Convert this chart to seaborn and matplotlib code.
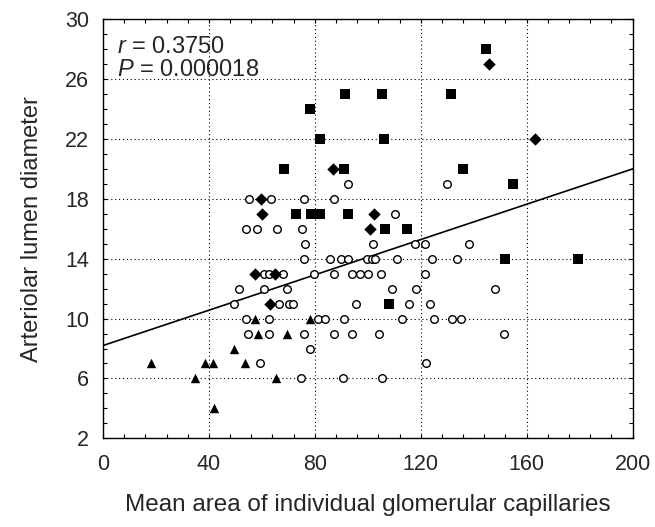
import numpy as np
import matplotlib
matplotlib.use("Agg")
import matplotlib.pyplot as plt
from matplotlib.ticker import MultipleLocator
import seaborn as sns

# values
sq_x = [91.5, 78, 82, 68.5, 91, 144.5, 105.5, 131.3, 106, 136, 155, 72.9, 78.6, 82,
        92.5, 106.6, 114.9, 151.8, 179.6, 108.2]
sq_y = [25, 24, 22, 20, 20, 28, 25, 25, 22, 20, 19, 17, 17, 17, 17, 16, 16, 14, 14, 11]

dia_x = [87, 145.7, 163, 59.7, 60, 102.3, 101, 57.5, 65.1, 63.2]
dia_y = [20, 27, 22, 18, 17, 17, 16, 13, 13, 11]

tri_x = [57.5, 78, 58.4, 69.5, 49.3, 18.3, 38.6, 41.6, 53.6, 34.7, 65.4, 42]
tri_y = [10, 10, 9, 9, 8, 7, 7, 7, 7, 6, 6, 4]

circ_x = [92.7, 130,
          55.3, 63.5, 75.8, 87.2,
          110.4,
          54.0, 58.0, 65.7, 75.0,
          76.3, 101.9, 117.7, 121.5, 138.2,
          75.8, 85.9, 89.8, 92.5, 99.8, 101.5, 102.8, 111.1, 124.1, 133.6,
          60.7, 62.6, 68.0, 79.8, 87.4, 94.1, 97.1, 100.0, 105.1, 121.5,
          51.5, 60.9, 69.5, 109.1, 118.3, 148.1,
          49.6, 66.3, 70.4, 71.8, 95.6, 115.5, 123.7,
          54.0, 62.6, 81.1, 83.9, 91.0, 112.8, 124.9, 131.7, 135.1,
          54.6, 62.6, 75.8, 87.2, 94.2, 104.4, 151.5,
          78.0,
          59.3, 122.1,
          74.6, 90.6, 105.5]
circ_y = [19, 19,
          18, 18, 18, 18,
          17,
          16, 16, 16, 16,
          15, 15, 15, 15, 15,
          14, 14, 14, 14, 14, 14, 14, 14, 14, 14,
          13, 13, 13, 13, 13, 13, 13, 13, 13, 13,
          12, 12, 12, 12, 12, 12,
          11, 11, 11, 11, 11, 11, 11,
          10, 10, 10, 10, 10, 10, 10, 10, 10,
          9, 9, 9, 9, 9, 9, 9,
          8,
          7, 7,
          6, 6, 6]

fit_x = [0, 200]
fit_y = [8.2, 20.0]

x_ticks = [0, 40, 80, 120, 160, 200]
y_ticks = [2, 6, 10, 14, 18, 22, 26, 30]

sns.set_theme(style="white")
plt.rcParams["font.family"] = ["Liberation Sans", "DejaVu Sans"]
plt.rcParams["mathtext.fontset"] = "custom"
plt.rcParams["mathtext.rm"] = "Liberation Sans"
plt.rcParams["mathtext.it"] = "Liberation Sans:italic"

fig = plt.figure(figsize=(6.55, 5.27), dpi=100)
ax = fig.add_axes([103 / 655, 1 - 438.3 / 527, 529.5 / 655, 419 / 527])

ax.grid(True, color="black", linestyle=(0, (1, 2.5)), linewidth=0.8)
ax.set_axisbelow(True)

sns.lineplot(x=fit_x, y=fit_y, color="black", linewidth=1.2, ax=ax)
sns.scatterplot(x=circ_x, y=circ_y, marker="o", s=30, color="white",
                edgecolor="black", linewidth=1.0, ax=ax, zorder=3)
sns.scatterplot(x=sq_x, y=sq_y, marker="s", s=42, color="black",
                edgecolor="black", linewidth=0, ax=ax, zorder=4)
sns.scatterplot(x=dia_x, y=dia_y, marker="D", s=40, color="black",
                edgecolor="black", linewidth=0, ax=ax, zorder=4)
sns.scatterplot(x=tri_x, y=tri_y, marker="^", s=46, color="black",
                edgecolor="black", linewidth=0, ax=ax, zorder=4)

ax.set_xlim(0, 200)
ax.set_ylim(2, 30)
ax.set_xticks(x_ticks)
ax.set_yticks(y_ticks)
ax.xaxis.set_minor_locator(MultipleLocator(8))
ax.yaxis.set_minor_locator(MultipleLocator(1))
ax.tick_params(which="both", direction="in", top=True, right=True,
               bottom=True, left=True, color="black", width=0.8, length=3)
ax.tick_params(axis="x", which="major", labelsize=15.5, pad=11)
ax.tick_params(axis="y", which="major", labelsize=15.5, pad=10)

for sp in ax.spines.values():
    sp.set_color("black")
    sp.set_linewidth(1.0)

ax.set_xlabel("Mean area of individual glomerular capillaries", fontsize=17.5, labelpad=14)
ax.set_ylabel("Arteriolar lumen diameter", fontsize=17, labelpad=16)

ax.text(0.027, 0.92, r"$\it{r}$ = 0.3750", transform=ax.transAxes,
        fontsize=17, va="baseline", ha="left")
ax.text(0.027, 0.865, r"$\it{P}$ = 0.000018", transform=ax.transAxes,
        fontsize=17, va="baseline", ha="left")

fig.savefig("out.png", dpi=100)
